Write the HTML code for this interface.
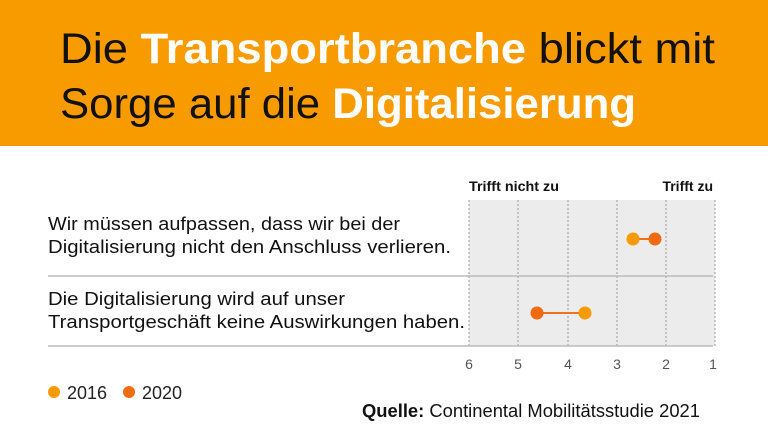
<!DOCTYPE html>
<html><head><meta charset="utf-8"><style>
html,body{margin:0;padding:0;background:#fff}
svg{display:block;font-family:"Liberation Sans",sans-serif}
</style></head><body>
<svg width="768" height="437" viewBox="0 0 768 437">
<rect x="0" y="0" width="768" height="146" fill="#f89b00"/>
<text x="60" y="63" font-size="43" fill="#111" textLength="655" lengthAdjust="spacingAndGlyphs">Die <tspan font-weight="bold" fill="#fff">Transportbranche</tspan> blickt mit</text>
<text x="60" y="118" font-size="43" fill="#111" textLength="576" lengthAdjust="spacingAndGlyphs">Sorge auf die <tspan font-weight="bold" fill="#fff">Digitalisierung</tspan></text>
<rect x="469" y="200" width="246" height="146" fill="#ececec"/>
<g stroke="#999" stroke-dasharray="2,2" stroke-width="1">
<line x1="469" y1="200" x2="469" y2="346"/><line x1="518" y1="200" x2="518" y2="346"/>
<line x1="568" y1="200" x2="568" y2="346"/><line x1="617" y1="200" x2="617" y2="346"/>
<line x1="666" y1="200" x2="666" y2="346"/><line x1="715" y1="200" x2="715" y2="346"/>
</g>
<line x1="48" y1="276" x2="713" y2="276" stroke="#bbb" stroke-width="1.5"/>
<line x1="48" y1="346" x2="713" y2="346" stroke="#bbb" stroke-width="1.5"/>
<text x="469" y="191" font-size="14" font-weight="bold" fill="#111" textLength="90" lengthAdjust="spacingAndGlyphs">Trifft nicht zu</text>
<text x="713" y="191" font-size="14" font-weight="bold" fill="#111" text-anchor="end">Trifft zu</text>
<g font-size="18" fill="#111">
<text x="48" y="230" textLength="352" lengthAdjust="spacingAndGlyphs">Wir müssen aufpassen, dass wir bei der</text>
<text x="48" y="253" textLength="403" lengthAdjust="spacingAndGlyphs">Digitalisierung nicht den Anschluss verlieren.</text>
<text x="48" y="305" textLength="297" lengthAdjust="spacingAndGlyphs">Die Digitalisierung wird auf unser</text>
<text x="48" y="328" textLength="417" lengthAdjust="spacingAndGlyphs">Transportgeschäft keine Auswirkungen haben.</text>
</g>
<line x1="633" y1="239" x2="655" y2="239" stroke="#f07020" stroke-width="2"/>
<circle cx="633" cy="239" r="6.5" fill="#f89b00"/><circle cx="655" cy="239" r="6.5" fill="#f06a10"/>
<line x1="537" y1="313" x2="585" y2="313" stroke="#f07020" stroke-width="2"/>
<circle cx="585" cy="313" r="6.5" fill="#f89b00"/><circle cx="537" cy="313" r="6.5" fill="#f06a10"/>
<g font-size="14" fill="#555" text-anchor="middle">
<text x="469" y="369">6</text><text x="518" y="369">5</text><text x="568" y="369">4</text>
<text x="617" y="369">3</text><text x="666" y="369">2</text><text x="713" y="369">1</text>
</g>
<circle cx="54" cy="392" r="6" fill="#f89b00"/><text x="67" y="399" font-size="18" fill="#222">2016</text>
<circle cx="129" cy="392" r="6" fill="#f06a10"/><text x="142" y="399" font-size="18" fill="#222">2020</text>
<text x="362" y="417" font-size="18" fill="#111" textLength="338" lengthAdjust="spacingAndGlyphs"><tspan font-weight="bold">Quelle:</tspan> Continental Mobilitätsstudie 2021</text>
</svg>
</body></html>
